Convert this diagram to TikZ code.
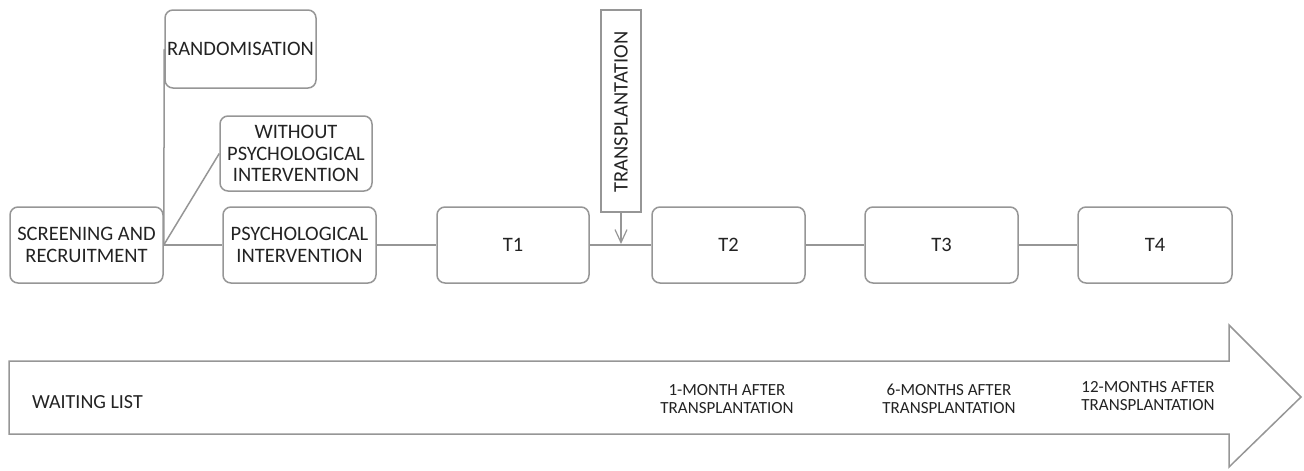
\documentclass[tikz,border=0pt]{standalone}
\usepackage{fontspec}
\setmainfont{Carlito}
\usetikzlibrary{arrows.meta}
\definecolor{edgegray}{RGB}{150,150,150}
\definecolor{txtgray}{RGB}{35,35,35}
\tikzset{
  boxstyle/.style={draw=edgegray, line width=1.5pt, rounded corners=8pt, fill=white,
    inner sep=0pt, align=center, text=txtgray, font=\fontsize{20.5}{21.5}\selectfont},
  conn/.style={draw=edgegray, line width=1.5pt},
  lbl/.style={inner sep=0pt, align=center, text=txtgray, font=\fontsize{17}{18.5}\selectfont},
}
\begin{document}
\begin{tikzpicture}[x=1pt,y=-1pt]
\useasboundingbox (0,0) rectangle (1304,471);
% big timeline arrow
\draw[edgegray, line width=1.5pt, fill=white]
  (9,361) -- (1229,361) -- (1229,325) -- (1301,397) -- (1229,467) -- (1229,434) -- (9,434) -- cycle;
% boxes
\node[boxstyle, minimum width=153pt, minimum height=76pt] (scr) at (86.5,245) {SCREENING AND\\RECRUITMENT};
\node[boxstyle, minimum width=151pt, minimum height=78pt] (rand) at (240.5,49) {RANDOMISATION};
\node[boxstyle, minimum width=152pt, minimum height=75pt] (wo) at (296,153.5) {WITHOUT\\PSYCHOLOGICAL\\INTERVENTION};
\node[boxstyle, minimum width=153pt, minimum height=76pt] (psy) at (299.5,245) {PSYCHOLOGICAL\\INTERVENTION};
\node[boxstyle, minimum width=152pt, minimum height=76pt] (t1) at (513,245) {T1};
\node[boxstyle, minimum width=153pt, minimum height=76pt] (t2) at (728.5,245) {T2};
\node[boxstyle, minimum width=153pt, minimum height=76pt] (t3) at (941.5,245) {T3};
\node[boxstyle, minimum width=154pt, minimum height=76pt] (t4) at (1155,245) {T4};
\node[boxstyle, rounded corners=0pt, minimum width=40pt, minimum height=202pt] (tx) at (621,111) {};
\node[rotate=90, inner sep=0pt, text=txtgray, font=\fontsize{20.5}{21.5}\selectfont] (txl) at (621,112) {TRANSPLANTATION};
% connectors
\draw[conn] (scr.east) -- (psy.west);
\draw[conn] (scr.east) -- (rand.west);
\draw[conn] (scr.east) -- (wo.west);
\draw[conn] (psy.east) -- (t1.west);
\draw[conn] (t1.east) -- (t2.west);
\draw[conn] (t2.east) -- (t3.west);
\draw[conn] (t3.east) -- (t4.west);
\coordinate (txend) at (621,244);
\draw[conn, -{Straight Barb[length=13pt,width=12pt,line width=1.2pt]}] (tx.south) -- (txend);
% timeline labels
\node[lbl, anchor=west, font=\fontsize{20}{21}\selectfont] (wl) at (32,402) {WAITING LIST};
\node[lbl] (m1) at (727,399) {1-MONTH AFTER\\TRANSPLANTATION};
\node[lbl] (m6) at (949,399) {6-MONTHS AFTER\\TRANSPLANTATION};
\node[lbl] (m12) at (1148,396) {12-MONTHS AFTER\\TRANSPLANTATION};
\end{tikzpicture}
\end{document}
